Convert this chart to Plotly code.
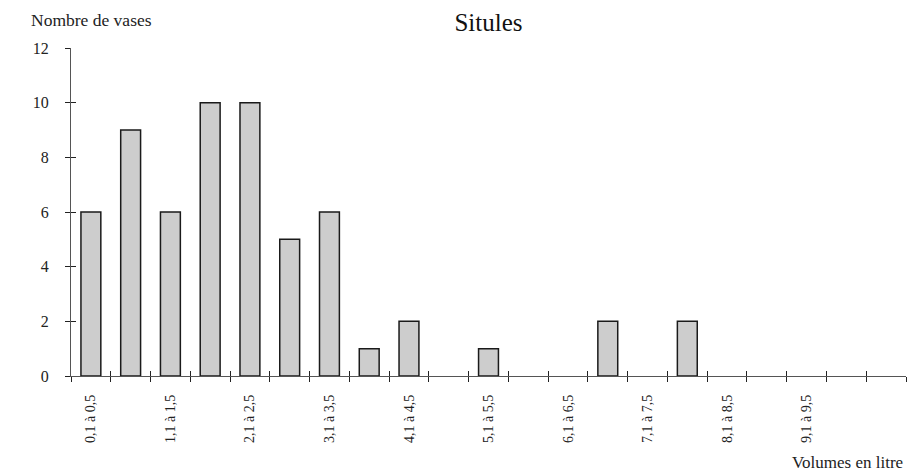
import plotly.graph_objects as go

categories = ["0,1 à 0,5", "0,6 à 1", "1,1 à 1,5", "1,6 à 2", "2,1 à 2,5", "2,6 à 3",
              "3,1 à 3,5", "3,6 à 4", "4,1 à 4,5", "4,6 à 5", "5,1 à 5,5", "5,6 à 6",
              "6,1 à 6,5", "6,6 à 7", "7,1 à 7,5", "7,6 à 8", "8,1 à 8,5", "8,6 à 9",
              "9,1 à 9,5", "9,6 à 10", "10,1 à 10,5"]
counts = [6, 9, 6, 10, 10, 5, 6, 1, 2, 0, 1, 0, 0, 2, 0, 2, 0, 0, 0, 0, 0]
tick_labels = ["0,1 à 0,5", "1,1 à 1,5", "2,1 à 2,5", "3,1 à 3,5", "4,1 à 4,5",
               "5,1 à 5,5", "6,1 à 6,5", "7,1 à 7,5", "8,1 à 8,5", "9,1 à 9,5"]
y_ticks = [0, 2, 4, 6, 8, 10, 12]

FONT = "Liberation Serif"
n = len(categories)
xr = [-0.5, n - 0.5]
boundaries = [i - 0.5 for i in range(n + 1)]

W, H = 912, 463  # page body has an 8px margin; figure fits exactly in the window
PH = 328.0       # plot-area height in pixels

fig = go.Figure()
fig.add_trace(go.Bar(
    x=categories, y=counts, width=0.5,
    marker=dict(color="#cdcdcd",
                line=dict(color="#1a1a1a", width=[1.5 if v else 0 for v in counts])),
    showlegend=False, hoverinfo="x+y",
))
# empty helper traces so the overlay tick axes are drawn
fig.add_trace(go.Scatter(x=[None], y=[None], xaxis="x2", yaxis="y2",
                         showlegend=False, hoverinfo="skip"))
fig.add_trace(go.Scatter(x=[None], y=[None], xaxis="x3", yaxis="y2",
                         showlegend=False, hoverinfo="skip"))

fig.update_layout(
    width=W, height=H,
    margin=dict(l=63, r=14, t=40, b=95),
    paper_bgcolor="white", plot_bgcolor="white",
    font=dict(family=FONT, size=14, color="#222"),
    title=dict(text="Situles", x=0.5, xref="paper", xanchor="center",
               y=1 - (22 - 8) / H, yref="container", yanchor="middle",
               font=dict(family=FONT, size=25, color="#111")),
    xaxis=dict(type="category", range=xr, tickmode="array",
               tickvals=tick_labels, ticktext=tick_labels, tickangle=-90,
               ticks="", showline=True, linecolor="#555", linewidth=1.2,
               showgrid=False, zeroline=False, ticklabelstandoff=12,
               automargin=False,
               tickfont=dict(family=FONT, size=14, color="#222")),
    xaxis2=dict(overlaying="x", anchor="y", side="bottom", range=xr,
                tickmode="array", tickvals=boundaries, ticks="outside",
                ticklen=5, tickwidth=1.2, tickcolor="#222", showticklabels=False,
                showline=False, showgrid=False, zeroline=False, automargin=False),
    xaxis3=dict(overlaying="x", anchor="y", side="bottom", range=xr,
                tickmode="array", tickvals=boundaries, ticks="inside",
                ticklen=5, tickwidth=1.2, tickcolor="#222", showticklabels=False,
                showline=False, showgrid=False, zeroline=False, automargin=False),
    yaxis=dict(range=[0, 12], tickmode="array", tickvals=y_ticks,
               ticks="outside", ticklen=5, tickwidth=1.2, tickcolor="#222",
               showline=True, linecolor="#555", linewidth=1.2,
               showgrid=False, zeroline=False, ticklabelstandoff=13,
               automargin=False,
               tickfont=dict(family=FONT, size=16, color="#222")),
    yaxis2=dict(overlaying="y", anchor="x", side="left", range=[0, 12],
                tickmode="array", tickvals=y_ticks, ticks="inside", ticklen=5,
                tickwidth=1.2, tickcolor="#222", showticklabels=False,
                showline=False, showgrid=False, zeroline=False, automargin=False),
    annotations=[
        dict(text="Nombre de vases", xref="paper", yref="paper",
             x=(29 - 71) / 835, y=(376 - 20) / PH, xanchor="left", yanchor="middle",
             showarrow=False, font=dict(family=FONT, size=17.5, color="#222")),
        dict(text="Volumes en litre", xref="paper", yref="paper",
             x=(905 - 71) / 835, y=(376 - 462) / PH, xanchor="right", yanchor="middle",
             showarrow=False, font=dict(family=FONT, size=17, color="#222")),
    ],
)

fig.write_html("out.html")
